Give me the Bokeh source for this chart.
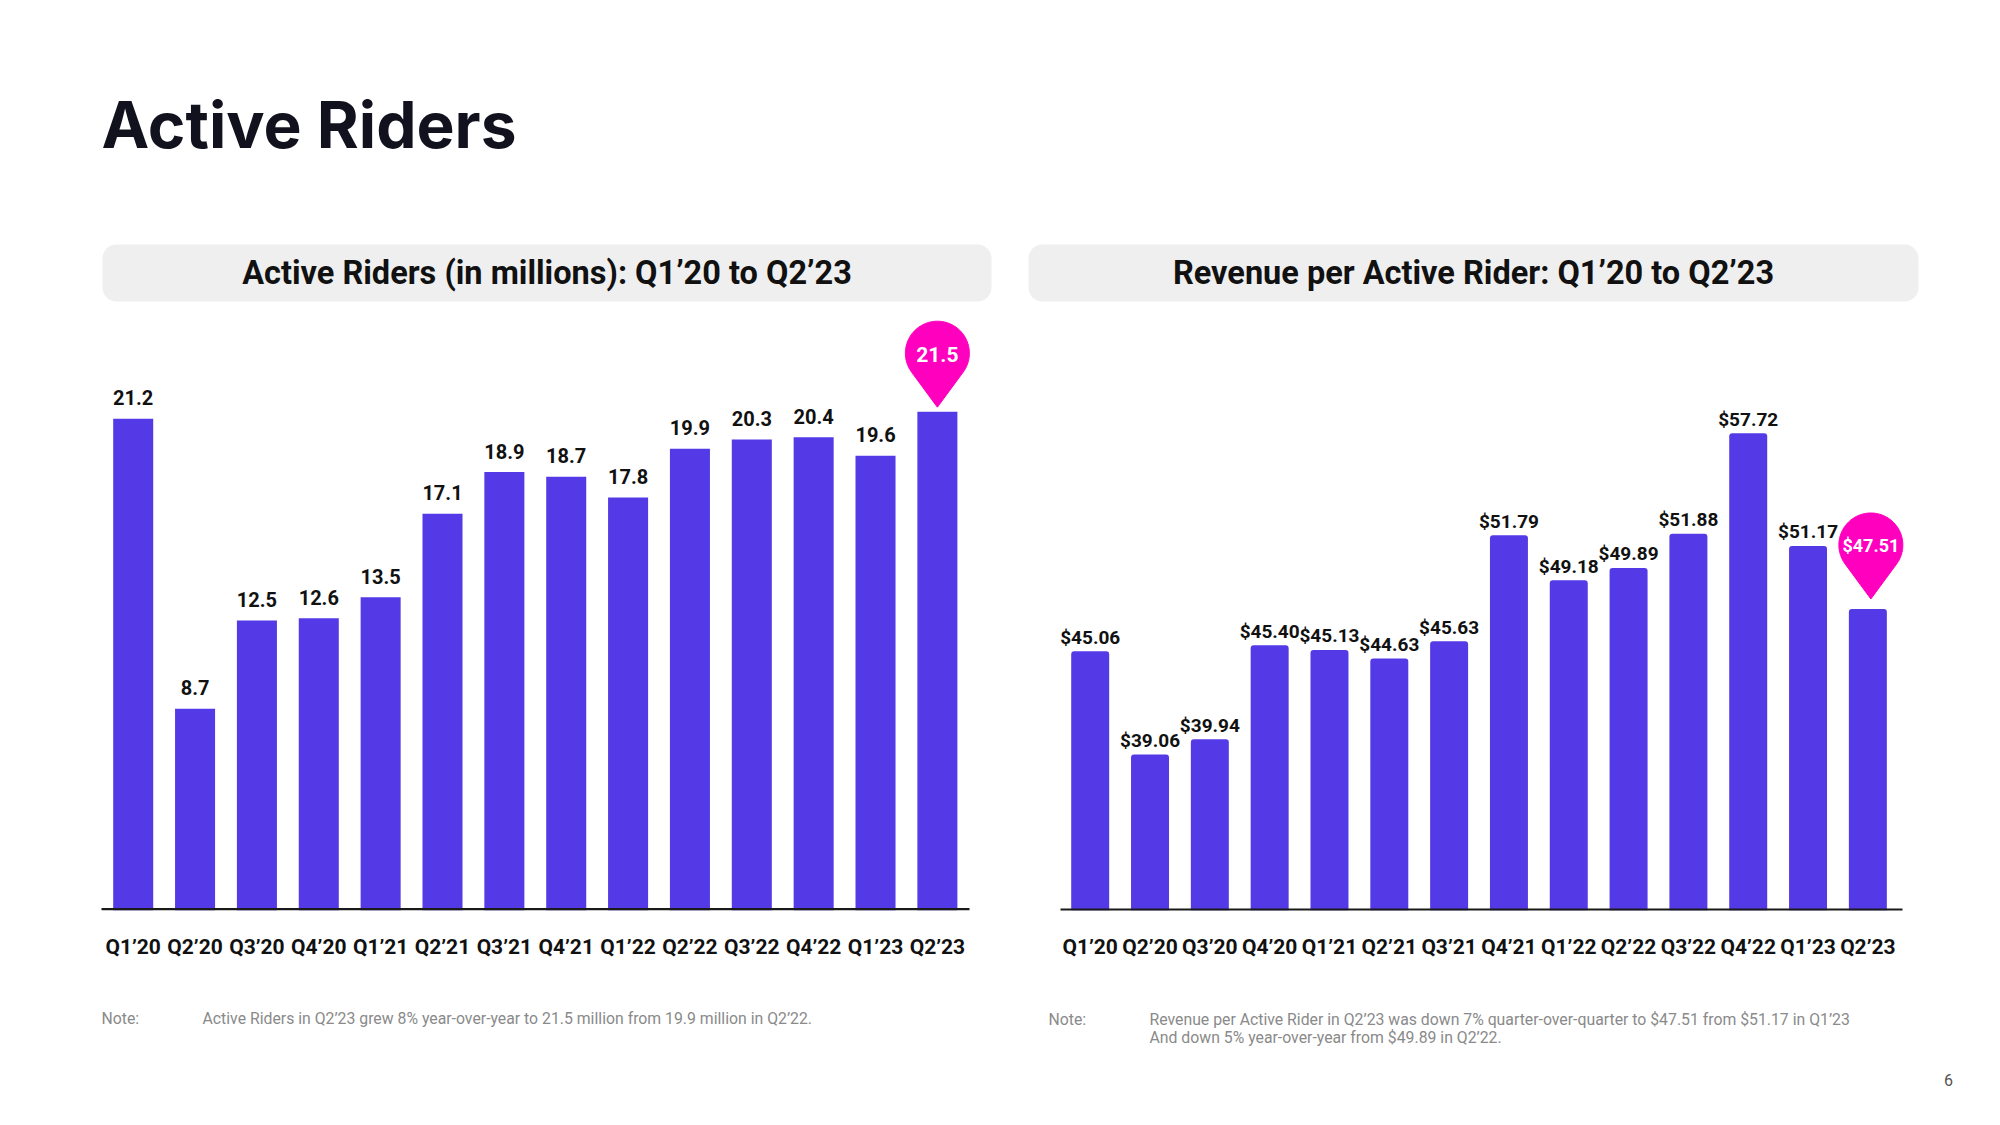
import numpy as np
from bokeh.plotting import figure
from bokeh.models import Range1d, FixedTicker
from bokeh.layouts import row, column
from bokeh.embed import file_html
from bokeh.resources import INLINE
from bokeh.core.properties import value

# ---------------- data ----------------
quarters = ["Q1’20", "Q2’20", "Q3’20", "Q4’20", "Q1’21", "Q2’21", "Q3’21",
            "Q4’21", "Q1’22", "Q2’22", "Q3’22", "Q4’22", "Q1’23", "Q2’23"]
active_riders = [21.2, 8.7, 12.5, 12.6, 13.5, 17.1, 18.9, 18.7, 17.8, 19.9, 20.3, 20.4, 19.6, 21.5]
revenue_per_rider = [45.06, 39.06, 39.94, 45.40, 45.13, 44.63, 45.63, 51.79, 49.18, 49.89,
                     51.88, 57.72, 51.17, 47.51]
rider_labels = [f"{v:.1f}" for v in active_riders]
revenue_labels = [f"${v:.2f}" for v in revenue_per_rider]

page_title = "Active Riders"
left_title = "Active Riders (in millions): Q1’20 to Q2’23"
right_title = "Revenue per Active Rider: Q1’20 to Q2’23"
left_note = "Active Riders in Q2’23 grew 8% year-over-year to 21.5 million from 19.9 million in Q2’22."
right_note_1 = "Revenue per Active Rider in Q2’23 was down 7% quarter-over-quarter to $47.51 from $51.17 in Q1’23"
right_note_2 = "And down 5% year-over-year from $49.89 in Q2’22."
page_number = "6"

# ---------------- style ----------------
PURPLE = "#533AE6"
MAGENTA = "#FF00BF"
DARK = "#12121F"
BOX = "#EFEFEF"
GRAY = "#8A8A8A"
FONT = "Roboto"

FRAME_H = 910
TOP_H = 985
FOOT_H = 126


def base_fig(width, xr, yr):
    p = figure(width=width, height=TOP_H, x_range=xr, y_range=yr,
               output_backend="svg", toolbar_location=None, y_axis_location=None,
               min_border=0, min_border_bottom=TOP_H - FRAME_H)
    p.title.visible = False
    p.outline_line_color = None
    p.xgrid.visible = False
    p.ygrid.visible = False
    p.background_fill_color = "white"
    p.border_fill_color = "white"
    p.extra_x_ranges = {"px": Range1d(0, width)}
    p.extra_y_ranges = {"py": Range1d(0, FRAME_H)}
    ax = p.xaxis[0]
    ax.ticker = FixedTicker(ticks=list(range(len(quarters))))
    ax.major_label_overrides = {i: q for i, q in enumerate(quarters)}
    ax.axis_line_color = None
    ax.major_tick_line_color = None
    ax.minor_tick_line_color = None
    ax.major_tick_out = 0
    ax.major_tick_in = 0
    ax.major_label_standoff = 24
    ax.major_label_text_font = FONT
    ax.major_label_text_font_style = "bold"
    ax.major_label_text_font_size = "21px"
    ax.major_label_text_color = "#111111"
    return p


def ptext(p, x, y, t, size, color, bold=True, align="center", baseline="middle", font=FONT):
    p.text(x=[x], y=[y], text=[t], x_range_name="px", y_range_name="py",
           text_font=value(font), text_font_style="bold" if bold else "normal",
           text_font_size=size, text_color=color, text_align=align, text_baseline=baseline)


def pin(p, i, v, xs, ys, gap, label, size, shift=0.0):
    r, d = 32.0, 54.0
    th = np.arccos(r / d)
    a = np.linspace(-np.pi / 2 + th, 3 * np.pi / 2 - th, 90)
    dx = np.concatenate([r * np.cos(a), [0.0]]) + shift
    dy = np.concatenate([r * np.sin(a), [-d]])
    cy = gap + d
    p.patch(i + dx / xs, v + (cy + dy) / ys, fill_color=MAGENTA, line_color=MAGENTA, line_width=1)
    p.text(x=[i + shift / xs], y=[v + cy / ys], text=[label], y_offset=1,
           text_font=value(FONT), text_font_style="bold", text_font_size=size,
           text_color="white", text_align="center", text_baseline="middle")


idx = list(range(len(quarters)))

# ---------------- left chart (page x 0..1018) ----------------
L_W = 1018
L_XS = 61.86
L_X0 = -132.7 / L_XS
L_YS = 23.2
left = base_fig(L_W, Range1d(L_X0, L_X0 + L_W / L_XS), Range1d(0, FRAME_H / L_YS))

ptext(left, 101, FRAME_H - 124, page_title, "64px", DARK, align="left", baseline="alphabetic", font="Inter")
left.quad(left=[102], right=[991], top=[FRAME_H - 244], bottom=[FRAME_H - 301], x_range_name="px",
          y_range_name="py", fill_color=BOX, line_color=None, border_radius=14)
ptext(left, 546.5, FRAME_H - 272.5, left_title, "32.5px", "#111111")

left.vbar(x=idx, top=active_riders, width=0.647, bottom=0, fill_color=PURPLE, line_color=None)
left.text(x=idx[:-1], y=active_riders[:-1], text=rider_labels[:-1], y_offset=-21,
          text_font=value(FONT), text_font_style="bold", text_font_size="20px",
          text_color="#111111", text_align="center", text_baseline="middle")
left.segment(x0=[101], y0=[1.2], x1=[969], y1=[1.2], x_range_name="px", y_range_name="py",
             line_color="#1A1A1A", line_width=2.4)
pin(left, idx[-1], active_riders[-1], L_XS, L_YS, 4.5, rider_labels[-1], "21px")

# ---------------- right chart (page x 1018..1992) ----------------
R_W = 974
R_OFF = 1018
R_XS = 59.82
R_X0 = -(1089.7 - R_OFF) / R_XS
R_YS = 17.22
R_Y0 = 30
right = base_fig(R_W, Range1d(R_X0, R_X0 + R_W / R_XS), Range1d(R_Y0, R_Y0 + FRAME_H / R_YS))

right.quad(left=[1028 - R_OFF], right=[1918 - R_OFF], top=[FRAME_H - 244], bottom=[FRAME_H - 301],
           x_range_name="px", y_range_name="py", fill_color=BOX, line_color=None, border_radius=14)
ptext(right, 1473 - R_OFF, FRAME_H - 272.5, right_title, "32.5px", "#111111")

right.vbar(x=idx, top=revenue_per_rider, width=0.635, bottom=R_Y0, fill_color=PURPLE,
           line_color=None, border_radius=(3, 3, 0, 0))
right.text(x=idx[:-1], y=revenue_per_rider[:-1], text=revenue_labels[:-1], y_offset=-14,
           text_font=value(FONT), text_font_style="bold", text_font_size="19px",
           text_color="#111111", text_align="center", text_baseline="middle")
right.segment(x0=[1060 - R_OFF], y0=[0.8], x1=[1902 - R_OFF], y1=[0.8], x_range_name="px",
              y_range_name="py", line_color="#1A1A1A", line_width=2.4)
pin(right, idx[-1], revenue_per_rider[-1], R_XS, R_YS, 10, revenue_labels[-1], "18px", shift=3.0)

# ---------------- footer (page y 985..1111) ----------------
F_W = L_W + R_W
foot = figure(width=F_W, height=FOOT_H, x_range=Range1d(0, F_W), y_range=Range1d(0, FOOT_H),
              output_backend="svg", toolbar_location=None, x_axis_location=None,
              y_axis_location=None, min_border=0)
foot.title.visible = False
foot.outline_line_color = None
foot.xgrid.visible = False
foot.ygrid.visible = False
foot.border_fill_color = "white"
foot.extra_x_ranges = {"px": Range1d(0, F_W)}
foot.extra_y_ranges = {"py": Range1d(0, FOOT_H)}

FB = TOP_H + FOOT_H  # page y of footer bottom
ptext(foot, 101, FB - 1018, "Note:", "15.8px", GRAY, bold=False, align="left")
ptext(foot, 202, FB - 1018, left_note, "15.8px", GRAY, bold=False, align="left")
ptext(foot, 1048, FB - 1019, "Note:", "15.8px", GRAY, bold=False, align="left")
ptext(foot, 1149, FB - 1019, right_note_1, "15.8px", GRAY, bold=False, align="left")
ptext(foot, 1149, FB - 1037, right_note_2, "15.8px", GRAY, bold=False, align="left")
ptext(foot, 1948, FB - 1079, page_number, "16px", "#555555", bold=False)

layout = column(row(left, right), foot)
open("out.html", "w").write(file_html(layout, INLINE))
